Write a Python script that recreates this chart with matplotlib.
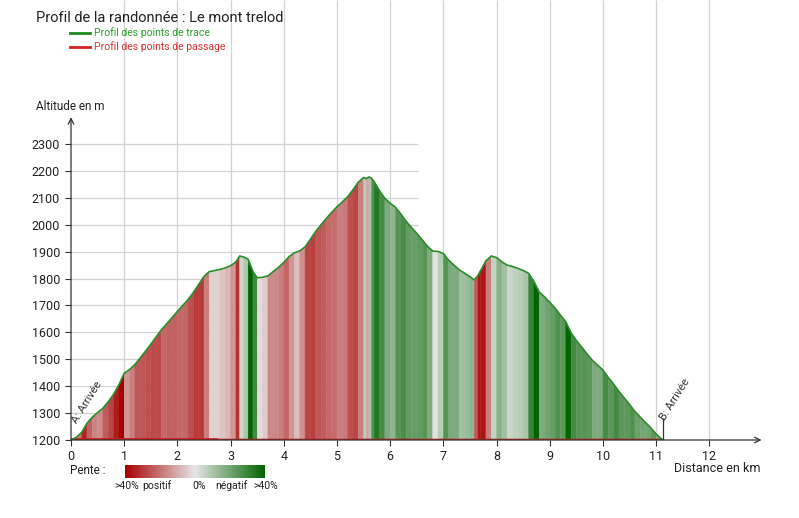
import matplotlib
matplotlib.use('Agg')
import matplotlib.pyplot as plt
import numpy as np
from matplotlib.colors import LinearSegmentedColormap
from matplotlib.collections import PolyCollection

plt.rcParams['font.family'] = ['Roboto', 'DejaVu Sans']

# profile (km, m)
dist = [0.0, 0.1, 0.2, 0.3, 0.4, 0.5, 0.6, 0.7, 0.8, 0.9,
        1.0, 1.1, 1.2, 1.3, 1.4, 1.5, 1.6, 1.7, 1.8, 1.9,
        2.0, 2.1, 2.2, 2.3, 2.4, 2.5, 2.6, 2.7, 2.8, 2.9,
        3.0, 3.1, 3.17, 3.25, 3.33, 3.42, 3.5, 3.6, 3.7, 3.8, 3.9,
        4.0, 4.1, 4.2, 4.3, 4.4, 4.5, 4.6, 4.7, 4.8, 4.9,
        5.0, 5.1, 5.2, 5.3, 5.4, 5.5, 5.55, 5.6, 5.65, 5.7, 5.8, 5.9,
        6.0, 6.1, 6.2, 6.3, 6.4, 6.5, 6.6, 6.7, 6.8, 6.9,
        7.0, 7.1, 7.2, 7.3, 7.4, 7.5, 7.58, 7.65, 7.7, 7.8, 7.9,
        8.0, 8.1, 8.2, 8.3, 8.4, 8.5, 8.6, 8.7, 8.8, 8.9,
        9.0, 9.1, 9.2, 9.3, 9.4, 9.5, 9.6, 9.7, 9.8, 9.9,
        10.0, 10.1, 10.2, 10.3, 10.4, 10.5, 10.6, 10.7, 10.8, 10.9,
        11.0, 11.12]
alt = [1200, 1210, 1228, 1262, 1285, 1302, 1318, 1342, 1370, 1405,
       1448, 1462, 1480, 1505, 1530, 1556, 1583, 1610, 1632, 1655,
       1678, 1700, 1722, 1748, 1778, 1808, 1826, 1830, 1834, 1840,
       1848, 1862, 1884, 1880, 1872, 1826, 1803, 1805, 1810, 1826, 1842,
       1860, 1882, 1896, 1903, 1918, 1946, 1975, 2000, 2024, 2046,
       2067, 2085, 2104, 2130, 2158, 2176, 2172, 2178, 2173, 2160, 2126, 2098,
       2080, 2065, 2040, 2013, 1990, 1968, 1945, 1920, 1902, 1901,
       1893, 1868, 1850, 1832, 1820, 1807, 1795, 1812, 1830, 1866, 1884,
       1878, 1862, 1850, 1845, 1838, 1830, 1820, 1790, 1750, 1732,
       1712, 1690, 1664, 1640, 1598, 1570, 1545, 1520, 1496, 1478,
       1460, 1432, 1408, 1380, 1356, 1332, 1306, 1285, 1265, 1245,
       1222, 1200]

# waypoints profile (red)
pass_dist = [0.0, 2.75, 2.78, 11.12]
pass_alt = [1203, 1203, 1201, 1201]

yticks = list(range(1200, 2400, 100))
xticks = list(range(0, 13))
title = 'Profil de la randonnée : Le mont trelod'

W, H = 799, 518
fig = plt.figure(figsize=(W / 100, H / 100), dpi=100)

# axes: 1200 m at y=440px, 0 km at x=71px, 53.2 px/km, 26.9 px/100m
ax = fig.add_axes([71 / W, (H - 440) / H, (W - 71) / W, 440 / H])
ax.set_xlim(0, (W - 71) / 53.2)
ax.set_ylim(1200, 1200 + 440 / 0.269)
for s in ax.spines.values():
    s.set_visible(False)

# grid
ax.vlines(xticks[1:], 1200, ax.get_ylim()[1], color='#d2d2d2', lw=0.9, zorder=0)
ax.hlines(yticks[1:], 0, 6.52, color='#d2d2d2', lw=0.9, zorder=0)

# slope-coloured fill
cmap = LinearSegmentedColormap.from_list('pente', ['#a80000', '#e6e6e6', '#006400'])
x = np.array(dist)
z = np.array(alt, dtype=float)
slope = np.diff(z) / (np.diff(x) * 1000) * 100
polys, cols = [], []
for i in range(len(x) - 1):
    polys.append([(x[i], 1200), (x[i], z[i]), (x[i + 1], z[i + 1]), (x[i + 1], 1200)])
    cols.append(cmap(np.clip((40 - slope[i]) / 80, 0, 1)))
pc = PolyCollection(polys, facecolors=cols, edgecolors=cols, linewidths=0.3, zorder=1)
ax.add_collection(pc)

ax.plot(dist, alt, color='#2a8f2a', lw=1.2, zorder=3)
ax.plot(pass_dist, pass_alt, color='#c81e1e', lw=1.5, zorder=2)

# axis lines with arrows
ax.annotate('', xy=(12.98, 1200), xytext=(0, 1200),
            arrowprops=dict(arrowstyle='->', color='#333333', lw=0.9, shrinkA=0, shrinkB=0), zorder=4)
ax.annotate('', xy=(0, 2400), xytext=(0, 1200),
            arrowprops=dict(arrowstyle='->', color='#333333', lw=0.9, shrinkA=0, shrinkB=0), zorder=4)

ax.set_xticks(xticks)
ax.set_yticks(yticks)
ax.tick_params(axis='both', length=4, width=0.8, color='#333333', labelsize=9,
               labelcolor='#222222')
ax.tick_params(axis='x', pad=3)
ax.tick_params(axis='y', pad=4)

# start / end labels
ax.text(0.3, 1340, 'A: Arrivée', rotation=58, ha='center', va='center',
        fontsize=8, color='#333333', zorder=5)
ax.vlines(11.13, 1200, 1282, color='#333333', lw=0.9, zorder=4)
ax.text(11.36, 1350, 'B: Arrivée', rotation=58, ha='center', va='center',
        fontsize=8, color='#333333', zorder=5)

# texts
fig.text(36 / W, 1 - 18 / H, title, fontsize=10.5, color='#222222', va='center')
fig.add_artist(plt.Line2D([70 / W, 90 / W], [1 - 33 / H] * 2, color='#1e8c1e', lw=2))
fig.add_artist(plt.Line2D([70 / W, 90 / W], [1 - 47 / H] * 2, color='#d62020', lw=2))
fig.text(94 / W, 1 - 33 / H, 'Profil des points de trace', fontsize=7.5,
         color='#2ca02c', va='center')
fig.text(94 / W, 1 - 47 / H, 'Profil des points de passage', fontsize=7.5,
         color='#e03030', va='center')
fig.text(36 / W, 1 - 107 / H, 'Altitude en m', fontsize=8.5, color='#222222', va='center')
fig.text(760 / W, 1 - 469 / H, 'Distance en km', fontsize=9, color='#222222',
         va='center', ha='right')

# slope colour bar
fig.text(70 / W, 1 - 471 / H, 'Pente :', fontsize=8.5, color='#222222', va='center')
cax = fig.add_axes([125 / W, (H - 478) / H, 140 / W, 13 / H])
cax.imshow(np.linspace(0, 1, 256)[None, :], aspect='auto', cmap=cmap)
cax.axis('off')
for px, lab in [(127, '>40%'), (157, 'positif'), (199, '0%'), (231, 'négatif'), (266, '>40%')]:
    fig.text(px / W, 1 - 486 / H, lab, fontsize=7.5, color='#222222', ha='center', va='center')

fig.savefig('out.png', dpi=100)
